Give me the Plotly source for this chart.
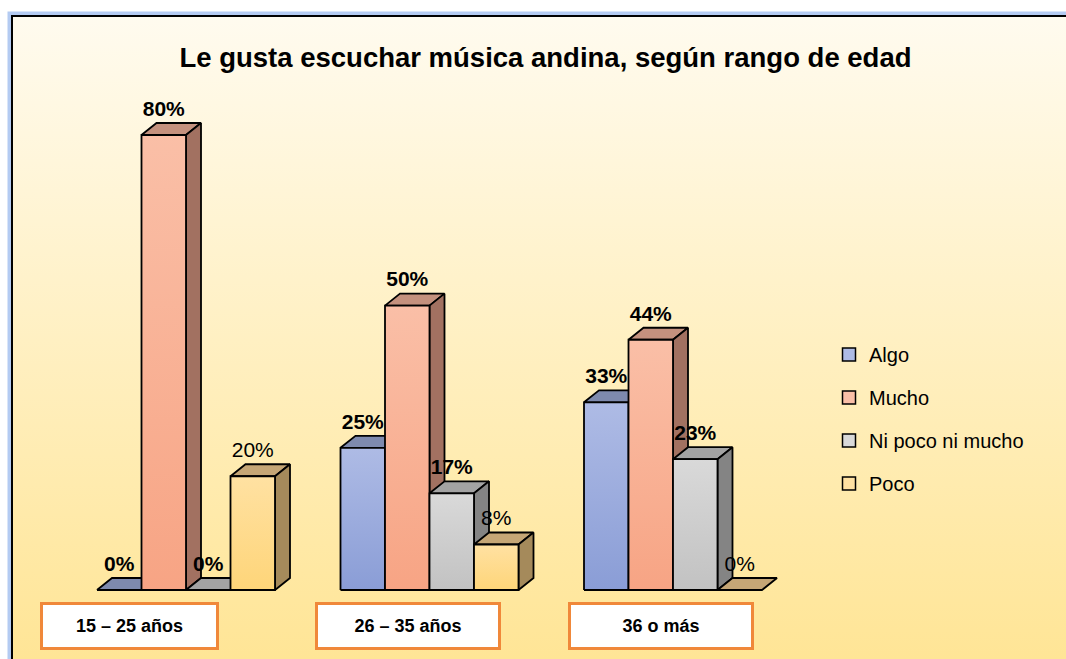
import plotly.graph_objects as go

# datos del gráfico
categorias = ['15 – 25 años', '26 – 35 años', '36 o más']
series = ['Algo', 'Mucho', 'Ni poco ni mucho', 'Poco']
algo = [0, 25, 33]
mucho = [80, 50, 44]
ni_poco = [0, 17, 23]
poco = [20, 8, 0]
valores = [algo, mucho, ni_poco, poco]

# colores: frente arriba, frente abajo, tapa, lado
colores = {
    'Algo': ('#AEBBE5', '#8A9DD6', '#7E8AAE', '#6C7799'),
    'Mucho': ('#FABFA7', '#F7A484', '#C4917E', '#A27161'),
    'Ni poco ni mucho': ('#D9D9D9', '#C2C2C2', '#A3A3A3', '#848484'),
    'Poco': ('#FFE1A2', '#FED579', '#C5A676', '#A58A5B'),
}

FONT = 'Liberation Sans, Arial, sans-serif'
W, H = 1066, 659

# escala: px por grupo y px por punto porcentual
PX_X = 243.5
X0 = -186 / PX_X
PX_Y = 5.6875
Y_BASE = 590


def px2x(p):
    return X0 + p / PX_X


def px2y(p):
    return (Y_BASE - p) / PX_Y


BW = 44.5 / PX_X      # ancho de barra
DX = 15 / PX_X        # profundidad en x
DY = 12 / PX_Y        # profundidad en y

fig = go.Figure()

# fondo degradado
bx0, bx1, by0, by1 = px2x(12), px2x(W + 20), px2y(16), px2y(H)
fig.add_trace(go.Scatter(x=[bx0, bx1, bx1, bx0, bx0], y=[by1, by1, by0, by0, by1],
                         mode='lines', fill='toself', line=dict(width=0),
                         fillgradient=dict(type='vertical',
                                           colorscale=[[0, '#FFE596'], [1, '#FFFBEF']]),
                         hoverinfo='skip', showlegend=False))

# barras 3D (se dibujan de izquierda a derecha)
for g in range(len(categorias)):
    for i, s in enumerate(series):
        v = valores[i][g]
        c_top, c_bot, c_tapa, c_lado = colores[s]
        L = g - 2 * BW + i * BW
        R = L + BW
        # tapa
        fig.add_trace(go.Scatter(x=[L, R, R + DX, L + DX, L], y=[v, v, v + DY, v + DY, v],
                                 mode='lines', fill='toself', fillcolor=c_tapa,
                                 line=dict(color='black', width=1.8),
                                 hoverinfo='skip', showlegend=False))
        if v > 0:
            # lado
            fig.add_trace(go.Scatter(x=[R, R + DX, R + DX, R, R], y=[0, DY, v + DY, v, 0],
                                     mode='lines', fill='toself', fillcolor=c_lado,
                                     line=dict(color='black', width=1.8),
                                     hoverinfo='skip', showlegend=False))
            # frente
            fig.add_trace(go.Scatter(x=[L, R, R, L, L], y=[0, 0, v, v, 0],
                                     mode='lines', fill='toself',
                                     fillgradient=dict(type='vertical',
                                                       colorscale=[[0, c_bot], [1, c_top]]),
                                     line=dict(color='black', width=1.8),
                                     hoverinfo='skip', showlegend=False))

# etiquetas de datos
for i, s in enumerate(series):
    xs = [g - 2 * BW + i * BW + BW / 2 for g in range(len(categorias))]
    ys = [v + 4.3 for v in valores[i]]
    if s == 'Poco':
        txt = [f'{v}%' for v in valores[i]]
    else:
        txt = [f'<b>{v}%</b>' for v in valores[i]]
    fig.add_trace(go.Scatter(x=xs, y=ys, mode='text', text=txt,
                             textfont=dict(family=FONT, size=21, color='black'),
                             hoverinfo='skip', showlegend=False))

# leyenda
for i, s in enumerate(series):
    fig.add_trace(go.Scatter(x=[None], y=[None], mode='markers', name=s, legendgroup=s,
                             marker=dict(symbol='square', size=13, color=colores[s][0],
                                         line=dict(color='black', width=1.5))))

# cajas de categorías
cajas_px = [129.5, 408, 661]
cajas_w = [173, 180, 180]
for cat, cx, bw in zip(categorias, cajas_px, cajas_w):
    fig.add_annotation(x=px2x(cx), y=px2y(625.5), xref='x', yref='y', text=f'<b>{cat}</b>',
                       showarrow=False, width=bw, height=42, bgcolor='white',
                       bordercolor='#F0883A', borderwidth=3, borderpad=0,
                       font=dict(family=FONT, size=18, color='black'))

# borde con brillo azul
fig.add_shape(type='rect', xref='paper', yref='paper',
              x0=9.5 / W, x1=(W + 20) / W, y0=-0.05, y1=1 - 13.5 / H,
              line=dict(color='#B4CBF2', width=4), layer='below')
fig.add_shape(type='rect', xref='paper', yref='paper',
              x0=12 / W, x1=(W + 20) / W, y0=-0.05, y1=1 - 16 / H,
              line=dict(color='black', width=2), layer='above')

fig.update_layout(
    width=W, height=H,
    margin=dict(l=0, r=0, t=0, b=0),
    paper_bgcolor='white', plot_bgcolor='white',
    title=dict(text='<b>Le gusta escuchar música andina, según rango de edad</b>',
               x=545.5 / W, y=1 - 57 / H, xanchor='center', yanchor='middle',
               font=dict(family=FONT, size=27.5, color='black')),
    xaxis=dict(range=[px2x(0), px2x(W)], visible=False, fixedrange=True),
    yaxis=dict(range=[px2y(H), px2y(0)], visible=False, fixedrange=True),
    legend=dict(x=829 / W, y=1 - 335 / H, xanchor='left', yanchor='top',
                bgcolor='rgba(0,0,0,0)', tracegroupgap=14,
                font=dict(family=FONT, size=20, color='black')),
    showlegend=True,
)

# quitar el margen por defecto del body para que el gráfico empiece en (0, 0)
fig.write_html('out.html', config={'displayModeBar': False},
               post_script="document.body.style.margin='0px';")
